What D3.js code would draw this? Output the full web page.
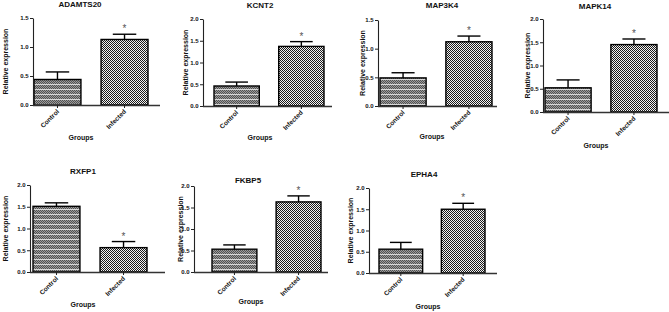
<!DOCTYPE html>
<html>
<head>
<meta charset="utf-8">
<script src="https://cdn.jsdelivr.net/npm/d3@7"></script>
<style>
  html, body { margin: 0; padding: 0; background: #fff; }
  svg { display: block; font-family: "Liberation Sans", Arial, sans-serif; }
</style>
</head>
<body>
<div id="chart"></div>
<script>
// data
const GENES = ["ADAMTS20", "KCNT2", "MAP3K4", "MAPK14", "RXFP1", "FKBP5", "EPHA4"];
const GROUPS = ["Control", "Infected"];
const CONTROL_MEAN = [0.44, 0.46, 0.49, 0.52, 1.51, 0.53, 0.56];
const CONTROL_ERR = [0.13, 0.09, 0.09, 0.17, 0.08, 0.10, 0.16];
const INFECTED_MEAN = [1.13, 1.37, 1.12, 1.45, 0.56, 1.63, 1.50];
const INFECTED_ERR = [0.09, 0.11, 0.10, 0.12, 0.14, 0.14, 0.14];
const Y_MAX = [1.5, 2.0, 1.5, 2.0, 2.0, 2.0, 2.0];
const SIGNIFICANT = ["Infected", "Infected", "Infected", "Infected", "Infected", "Infected", "Infected"];

// panel placement in the 669x312 figure
const PANELS = [
  { left: 33, right: 160, top: 18, bottom: 105, barStart: 34, barSpan: 114, titleX: 80, titleY: 7, groupX: 81, groupY: 140, ylabX: 8 },
  { left: 203, right: 332, top: 19, bottom: 106, barStart: 214, barSpan: 110, titleX: 260, titleY: 8, groupX: 260, groupY: 140, ylabX: 188 },
  { left: 378, right: 497, top: 20, bottom: 106, barStart: 380, barSpan: 112, titleX: 442, titleY: 8, groupX: 432, groupY: 139, ylabX: 365 },
  { left: 543, right: 669, top: 19, bottom: 112, barStart: 545, barSpan: 112, titleX: 595, titleY: 9, groupX: 596, groupY: 148, ylabX: 530 },
  { left: 30, right: 165, top: 185, bottom: 272, barStart: 33, barSpan: 114, titleX: 83, titleY: 174, groupX: 83, groupY: 307, ylabX: 8 },
  { left: 194, right: 328, top: 186, bottom: 272, barStart: 212, barSpan: 109, titleX: 248, titleY: 183, groupX: 251, groupY: 304, ylabX: 183 },
  { left: 369, right: 497, top: 188, bottom: 273, barStart: 379, barSpan: 106, titleX: 424, titleY: 177, groupX: 428, groupY: 309, ylabX: 353 },
];

const W = 669, H = 312;
const INK = "#111";

const svg = d3.select("#chart").append("svg")
  .attr("width", W)
  .attr("height", H);

// fill patterns
const defs = svg.append("defs");
const pCtrl = defs.append("pattern")
  .attr("id", "pat-control")
  .attr("patternUnits", "userSpaceOnUse")
  .attr("width", 2).attr("height", 5);
pCtrl.append("rect").attr("width", 2).attr("height", 5).attr("fill", "#9c9c9c");
[[0, 0], [1, 1], [0, 2], [1, 3]].forEach(([px, py]) =>
  pCtrl.append("rect").attr("x", px).attr("y", py).attr("width", 1).attr("height", 1).attr("fill", "#505050"));
pCtrl.append("rect").attr("x", 0).attr("y", 4).attr("width", 2).attr("height", 1).attr("fill", "#d8d8d8");

const pInf = defs.append("pattern")
  .attr("id", "pat-infected")
  .attr("patternUnits", "userSpaceOnUse")
  .attr("width", 2).attr("height", 2);
pInf.append("rect").attr("width", 2).attr("height", 2).attr("fill", "#f2f2f2");
pInf.append("rect").attr("x", 0).attr("y", 0).attr("width", 1).attr("height", 1).attr("fill", "#1a1a1a");
pInf.append("rect").attr("x", 1).attr("y", 1).attr("width", 1).attr("height", 1).attr("fill", "#1a1a1a");

const FILL = { Control: "url(#pat-control)", Infected: "url(#pat-infected)" };

GENES.forEach((gene, i) => {
  const L = PANELS[i];
  const rows = [
    { group: "Control", mean: CONTROL_MEAN[i], err: CONTROL_ERR[i] },
    { group: "Infected", mean: INFECTED_MEAN[i], err: INFECTED_ERR[i] },
  ];

  const y = d3.scaleLinear().domain([0, Y_MAX[i]]).range([L.bottom, L.top]);
  const x = d3.scaleBand()
    .domain(GROUPS)
    .range([L.barStart, L.barStart + L.barSpan])
    .paddingInner(0.3)
    .paddingOuter(0);

  const g = svg.append("g").attr("class", "panel");

  // title
  g.append("text")
    .attr("x", L.titleX).attr("y", L.titleY)
    .attr("text-anchor", "middle")
    .attr("font-size", 8).attr("font-weight", "bold")
    .attr("fill", INK)
    .text(gene);

  // bars
  g.selectAll("rect.bar")
    .data(rows)
    .join("rect")
    .attr("class", "bar")
    .attr("x", (d) => x(d.group))
    .attr("y", (d) => y(d.mean))
    .attr("width", x.bandwidth())
    .attr("height", (d) => y(0) - y(d.mean))
    .attr("fill", (d) => FILL[d.group])
    .attr("stroke", "#000")
    .attr("stroke-width", 1.4);

  // error bars (upper only)
  const capW = x.bandwidth() * 0.5;
  const eb = g.selectAll("g.err").data(rows).join("g").attr("class", "err");
  eb.append("line")
    .attr("x1", (d) => x(d.group) + x.bandwidth() / 2)
    .attr("x2", (d) => x(d.group) + x.bandwidth() / 2)
    .attr("y1", (d) => y(d.mean))
    .attr("y2", (d) => y(d.mean + d.err))
    .attr("stroke", "#000").attr("stroke-width", 1.4);
  eb.append("line")
    .attr("x1", (d) => x(d.group) + x.bandwidth() / 2 - capW / 2)
    .attr("x2", (d) => x(d.group) + x.bandwidth() / 2 + capW / 2)
    .attr("y1", (d) => y(d.mean + d.err))
    .attr("y2", (d) => y(d.mean + d.err))
    .attr("stroke", "#000").attr("stroke-width", 1.4);

  // significance star
  const sig = rows.find((d) => d.group === SIGNIFICANT[i]);
  g.append("text")
    .attr("x", x(sig.group) + x.bandwidth() / 2)
    .attr("y", y(sig.mean + sig.err) - 2)
    .attr("text-anchor", "middle")
    .attr("font-size", 10)
    .attr("fill", "#555")
    .text("*");

  // y axis
  const yAxis = g.append("g")
    .attr("transform", `translate(${L.left},0)`)
    .call(d3.axisLeft(y)
      .tickValues(d3.range(0, Y_MAX[i] + 0.001, 0.5))
      .tickFormat(d3.format(".1f"))
      .tickSize(3)
      .tickSizeOuter(0)
      .tickPadding(1.5));
  yAxis.select(".domain").attr("stroke", "#222").attr("stroke-width", 1.1);
  yAxis.selectAll(".tick line").attr("stroke", "#222").attr("stroke-width", 1);
  yAxis.selectAll(".tick text")
    .attr("font-size", 6).attr("font-weight", "bold")
    .attr("font-family", "Liberation Sans, Arial, sans-serif")
    .attr("fill", INK);

  // x axis
  const xAxis = g.append("g")
    .attr("transform", `translate(0,${L.bottom})`)
    .call(d3.axisBottom(x).tickSize(3).tickSizeOuter(0).tickFormat(""));
  xAxis.select(".domain")
    .attr("d", `M${L.left},0.5H${L.right}`)
    .attr("stroke", "#333").attr("stroke-width", 1.4);
  xAxis.selectAll(".tick line").attr("stroke", "#222").attr("stroke-width", 1);

  // rotated group labels
  g.selectAll("text.xlab")
    .data(GROUPS)
    .join("text")
    .attr("class", "xlab")
    .attr("text-anchor", "end")
    .attr("font-size", 6.5).attr("font-weight", "bold")
    .attr("fill", INK)
    .attr("transform", (d) =>
      `translate(${x(d) + x.bandwidth() / 2 + 2},${L.bottom + 7}) rotate(-45)`)
    .text((d) => d);

  // axis titles
  g.append("text")
    .attr("x", L.groupX).attr("y", L.groupY)
    .attr("text-anchor", "middle")
    .attr("font-size", 7).attr("font-weight", "bold")
    .attr("fill", INK)
    .text("Groups");

  g.append("text")
    .attr("transform", `translate(${L.ylabX},${(L.top + L.bottom) / 2}) rotate(-90)`)
    .attr("text-anchor", "middle")
    .attr("font-size", 7).attr("font-weight", "bold")
    .attr("fill", INK)
    .text("Relative expression");
});
</script>
</body>
</html>
